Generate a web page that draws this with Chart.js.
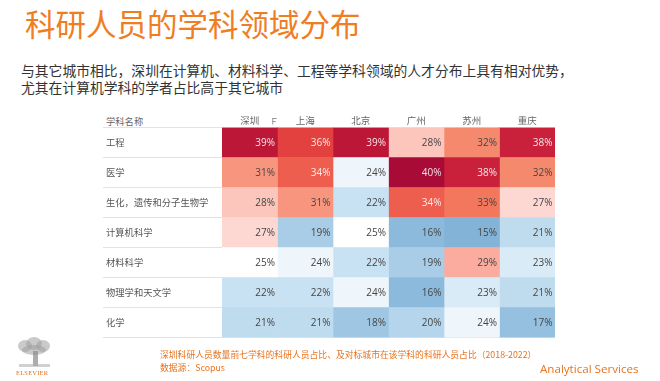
<!DOCTYPE html>
<html>
<head>
<meta charset="utf-8">
<script src="https://cdn.jsdelivr.net/npm/chart.js@4/dist/chart.umd.min.js"></script>
<style>
  html, body { margin: 0; padding: 0; background: #fff; }
  body { width: 660px; height: 381px; position: relative; overflow: hidden; font-family: "Noto Sans CJK SC", "Noto Sans", sans-serif; }
  #title { position: absolute; left: 25px; top: 5px; font-size: 30.5px; line-height: 36px; color: #EF7D22; white-space: nowrap; }
  #sub { position: absolute; left: 21px; top: 62px; font-size: 13.8px; line-height: 17px; color: #333; white-space: nowrap; }
  #hdr { position: absolute; left: 106px; top: 114px; font-size: 9.3px; line-height: 14px; color: #666; }
  #foot { position: absolute; left: 160px; top: 348px; font-size: 8.8px; line-height: 13px; color: #E8731E; white-space: nowrap; }
  #as { position: absolute; left: 540px; top: 361px; font-family: "Open Sans", sans-serif; font-size: 11.6px; line-height: 16px; color: #E8731E; white-space: nowrap; }
  #logo { position: absolute; left: 14px; top: 337px; width: 40px; height: 42px; }
  .b { position: absolute; border-radius: 50%; background: #9e9e9e; opacity: 0.55; }
  .trunk { position: absolute; left: 19px; top: 14px; width: 5px; height: 15px; background: #8a8a8a; opacity: 0.7; }
  .ground { position: absolute; left: 5px; top: 27px; width: 31px; height: 3px; background: #b0b0b0; opacity: 0.6; }
  .el { position: absolute; left: 2px; top: 32px; font-family: "Liberation Serif", serif; font-size: 6.5px; color: #E8731E; letter-spacing: 0.2px; }
  #wrap { position: absolute; left: 0; top: 0; width: 660px; height: 381px; }
</style>
</head>
<body>
<div id="title">科研人员的学科领域分布</div>
<div id="sub">与其它城市相比，深圳在计算机、材料科学、工程等学科领域的人才分布上具有相对优势，<br>尤其在计算机学科的学者占比高于其它城市</div>
<div id="hdr">学科名称</div>
<div id="wrap"><canvas id="c" width="660" height="381"></canvas></div>
<div id="foot">深圳科研人员数量前七学科的科研人员占比、及对标城市在该学科的科研人员占比（2018-2022）<br>数据源：Scopus</div>
<div id="as">Analytical Services</div>
<div id="logo">
  <div class="b" style="left:4px;top:3px;width:14px;height:12px"></div>
  <div class="b" style="left:12px;top:0px;width:16px;height:13px"></div>
  <div class="b" style="left:22px;top:3px;width:14px;height:12px"></div>
  <div class="b" style="left:8px;top:8px;width:24px;height:10px"></div>
  <div class="trunk"></div><div class="ground"></div><div class="el">ELSEVIER</div>
</div>
<script>
// ---- data ----
const subjects = ['工程', '医学', '生化，遗传和分子生物学', '计算机科学', '材料科学', '物理学和天文学', '化学'];
const cities = ['深圳', '上海', '北京', '广州', '苏州', '重庆'];
const shenzhen  = [39, 31, 28, 27, 25, 22, 21];
const shanghai  = [36, 34, 31, 19, 24, 22, 21];
const beijing   = [39, 24, 22, 25, 22, 24, 18];
const guangzhou = [28, 40, 34, 16, 19, 16, 20];
const suzhou    = [32, 38, 33, 15, 29, 23, 24];
const chongqing = [38, 32, 27, 21, 23, 21, 17];
const cityValues = [shenzhen, shanghai, beijing, guangzhou, suzhou, chongqing];

// ---- colour scale (style) ----
const anchors = [
  [15, '#84B3D8'], [16, '#8BBADD'], [19, '#A9CDE6'], [21, '#BFDCEF'], [22, '#C9E2F3'],
  [23, '#D9EBF7'], [24, '#EEF5FB'], [25, '#FFFFFF'], [27, '#FDD8D3'], [28, '#FCC6BD'],
  [29, '#FBAC9E'], [31, '#F8957F'], [32, '#F5896D'], [33, '#F3775D'], [34, '#EE5E4F'],
  [36, '#E2413F'], [38, '#C9213B'], [39, '#BD1737'], [40, '#A70B36']
];
function hex(h) { return [parseInt(h.slice(1,3),16), parseInt(h.slice(3,5),16), parseInt(h.slice(5,7),16)]; }
function colorFor(v) {
  if (v <= anchors[0][0]) return anchors[0][1];
  for (let i = 1; i < anchors.length; i++) {
    if (v <= anchors[i][0]) {
      const [v0, c0] = anchors[i-1], [v1, c1] = anchors[i];
      const t = (v - v0) / (v1 - v0), a = hex(c0), b = hex(c1);
      return 'rgb(' + a.map((x, k) => Math.round(x + (b[k] - x) * t)).join(',') + ')';
    }
  }
  return anchors[anchors.length - 1][1];
}

const datasets = cities.map((city, ci) => ({
  label: city,
  data: cityValues[ci].map((v, ri) => ({ x: [ci, ci + 1], y: subjects[ri], v: v })),
  backgroundColor: cityValues[ci].map(colorFor),
  borderWidth: 0,
  grouped: false,
  barPercentage: 1,
  categoryPercentage: 1
}));

const cellLabels = {
  id: 'cellLabels',
  afterDatasetsDraw(chart) {
    const ctx = chart.ctx;
    ctx.save();
    ctx.font = '10px "Open Sans", "Noto Sans", sans-serif';
    ctx.textAlign = 'right';
    ctx.textBaseline = 'middle';
    chart.data.datasets.forEach((ds, di) => {
      const meta = chart.getDatasetMeta(di);
      meta.data.forEach((el, i) => {
        const v = ds.data[i].v;
        const right = Math.max(el.x, el.base);
        ctx.fillStyle = v >= 34 ? 'rgba(255,255,255,0.88)' : '#454545';
        ctx.fillText(v + '%', right - 2.5, el.y + 0.5);
      });
    });
    // small filter icon beside the first header
    const x2 = chart.scales.x2;
    const ix = x2.getPixelForValue(0) + 22.5;
    ctx.strokeStyle = '#9a9a9a';
    ctx.lineWidth = 1;
    ctx.beginPath();
    ctx.moveTo(ix + 0.5, 118); ctx.lineTo(ix + 0.5, 124.5);
    ctx.moveTo(ix, 118.5); ctx.lineTo(ix + 4.5, 118.5);
    ctx.moveTo(ix, 121.5); ctx.lineTo(ix + 3.5, 121.5);
    ctx.stroke();
    ctx.restore();
  }
};

new Chart(document.getElementById('c'), {
  type: 'bar',
  data: { labels: subjects, datasets: datasets },
  options: {
    indexAxis: 'y',
    responsive: false,
    animation: false,
    layout: { padding: { left: 106, top: 105, right: 105, bottom: 43.5 } },
    plugins: { legend: { display: false }, tooltip: { enabled: false } },
    scales: {
      x: { type: 'linear', min: 0, max: 6, display: false },
      x2: {
        type: 'category', position: 'top', labels: cities, offset: true,
        grid: { display: false, drawTicks: false }, border: { display: false },
        ticks: { color: '#666', padding: 1, font: { size: 9.5, family: '"Noto Sans CJK SC", sans-serif' } },
        afterFit(s) { s.height = 22.5; }
      },
      y: {
        type: 'category',
        grid: { offset: true, color: '#e2e2e2', tickColor: '#e2e2e2', tickLength: 119, drawOnChartArea: true },
        border: { display: false },
        ticks: { crossAlign: 'far', color: '#555', autoSkip: false, font: { size: 9.3, family: '"Noto Sans CJK SC", sans-serif' } },
        afterFit(s) { s.width = 116; }
      }
    }
  },
  plugins: [cellLabels]
});
</script>
</body>
</html>
